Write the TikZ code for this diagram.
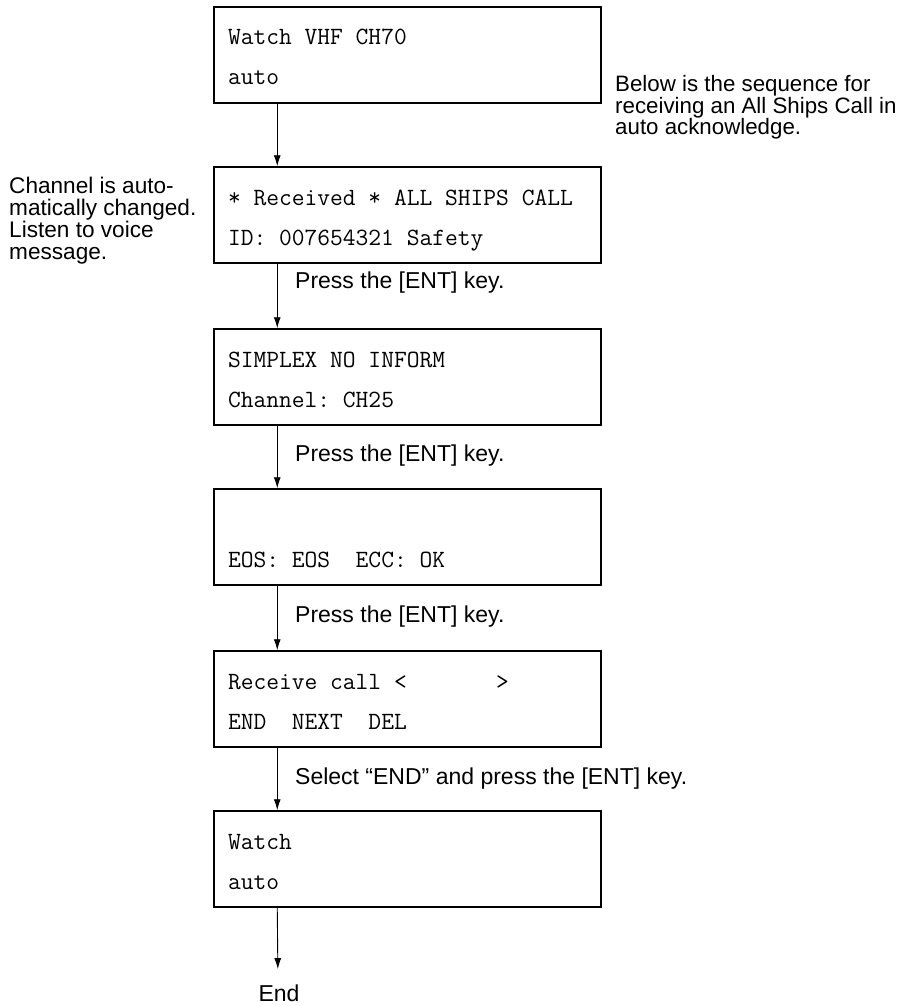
\documentclass[tikz,border=0pt]{standalone}
\usepackage{fontspec}
\setmainfont{Liberation Sans}
\usepackage{tikz}
\usetikzlibrary{arrows.meta}

% two display lines of the LCD screen, one blank cell
\newcommand{\lcd}[2]{\rule{0pt}{30pt}#1\\#2\rule[-10pt]{0pt}{10pt}}
\newcommand{\bl}{\phantom{0}}

\begin{document}
\begin{tikzpicture}[
  x=1pt, y=-1pt,
  scr/.style   = {draw, line width=1.5pt, minimum width=387pt,
                  minimum height=96pt, text width=359pt, inner xsep=14pt,
                  inner ysep=0pt, align=left,
                  font=\ttfamily\fontsize{24.8}{40}\selectfont},
  txt/.style   = {inner sep=0pt, font=\fontsize{23}{22}\selectfont},
  note/.style  = {inner sep=0pt, anchor=north west, align=left},
  key/.style   = {txt, anchor=base west},
  arr/.style   = {-{Latex[length=11pt,width=7pt]}, line width=0.9pt},
]
\useasboundingbox (0,0) rectangle (906,1006);

%% ── Screens ─────────────────────────────────────────────────────────────────
\node[scr] (S1) at (407.5, 55) {\lcd{Watch\bl VHF\bl CH70}{auto}};
\node[scr] (S2) at (407.5,215) {\lcd{*\bl Received\bl *\bl ALL\bl SHIPS\bl CALL}{ID:\bl 007654321\bl Safety}};
\node[scr] (S3) at (407.5,377) {\lcd{SIMPLEX\bl NO\bl INFORM}{Channel:\bl CH25}};
\node[scr] (S4) at (407.5,537) {\lcd{}{EOS:\bl EOS\bl\bl ECC:\bl OK}};
\node[scr] (S5) at (407.5,699) {\lcd{Receive\bl call\bl <\bl\bl\bl\bl\bl\bl\bl >}{END\bl\bl NEXT\bl\bl DEL}};
\node[scr] (S6) at (407.5,859) {\lcd{Watch}{auto}};
\node[txt, anchor=base] (END) at (279,1001) {End};

%% ── Side notes ──────────────────────────────────────────────────────────────
\node[note, font=\fontsize{22.3}{20}\selectfont] (NR) at (615, 75)
  {Below is the sequence for\\receiving an All Ships Call in\\auto acknowledge.};
\node[note, font=\fontsize{22.6}{22}\selectfont] (NL) at (9,177)
  {Channel is auto-\\matically changed.\\Listen to voice\\message.};

%% ── Key operations ──────────────────────────────────────────────────────────
\node[key] (K1) at (295,288) {Press the [ENT] key.};
\node[key] (K2) at (295,461) {Press the [ENT] key.};
\node[key] (K3) at (295,622) {Press the [ENT] key.};
\node[key] (K4) at (295,784) {Select \textquotedblleft END\textquotedblright\ and press the [ENT] key.};

%% ── Flow ────────────────────────────────────────────────────────────────────
\draw[arr] ([xshift=64pt]S1.south west)--([xshift=64pt]S2.north west);
\draw[arr] ([xshift=64pt]S2.south west)--([xshift=64pt]S3.north west);
\draw[arr] ([xshift=64pt]S3.south west)--([xshift=64pt]S4.north west);
\draw[arr] ([xshift=64pt]S4.south west)--([xshift=64pt]S5.north west);
\draw[arr] ([xshift=64pt]S5.south west)--([xshift=64pt]S6.north west);
\draw[arr, shorten >=15pt] ([xshift=64pt]S6.south west)--([xshift=-1pt]END.north);

\end{tikzpicture}
\end{document}
